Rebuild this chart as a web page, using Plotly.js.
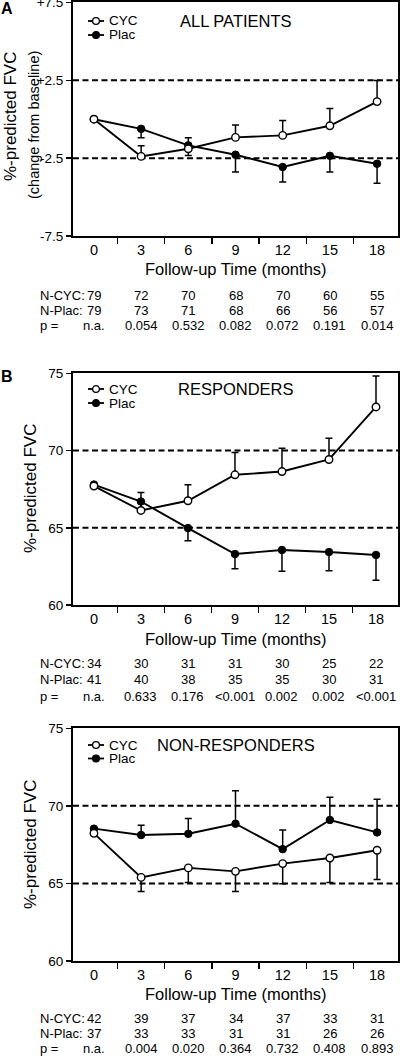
<!DOCTYPE html>
<html>
<head>
<meta charset="utf-8">
<script src="https://cdn.plot.ly/plotly-3.0.1.min.js"></script>
<style>html,body{margin:0;padding:0;background:#fff}#chart{width:400px;height:1058px}</style>
</head>
<body>
<div id="chart"></div>
<script>
// ---------- data ----------
const months = ['0', '3', '6', '9', '12', '15', '18'];

// Panel A: ALL PATIENTS (change from baseline)
const a_cyc = [0, -2.39, -1.90, -1.17, -1.04, -0.42, 1.13];
const a_cyc_err = [0, 0.68, 0.71, 0.79, 0.96, 1.11, 1.35];
const a_plac = [0, -0.62, -1.68, -2.28, -3.07, -2.35, -2.86];
const a_plac_err = [0, 0.57, 0.65, 1.11, 0.96, 1.04, 1.26];
const a_n_cyc = [79, 72, 70, 68, 70, 60, 55];
const a_n_plac = [79, 73, 71, 68, 66, 56, 57];
const a_p = ['n.a.', '0.054', '0.532', '0.082', '0.072', '0.191', '0.014'];
const a_ticks = [-7.5, -2.5, 2.5, 7.5];
const a_ticktext = ['-7.5', '-2.5', '+2.5', '+7.5'];
const a_refs = [2.5, -2.5];

// Panel B: RESPONDERS
const b_cyc = [67.7, 66.12, 66.75, 68.43, 68.64, 69.42, 72.82];
const b_cyc_err = [0, 1.16, 1.03, 1.44, 1.5, 1.38, 2.0];
const b_plac = [67.8, 66.7, 64.98, 63.3, 63.56, 63.43, 63.24];
const b_plac_err = [0, 0.5, 0.82, 0.95, 1.38, 1.21, 1.64];
const b_n_cyc = [34, 30, 31, 31, 30, 25, 22];
const b_n_plac = [41, 40, 38, 35, 35, 30, 31];
const b_p = ['n.a.', '0.633', '0.176', '<0.001', '0.002', '0.002', '<0.001'];

// Panel C: NON-RESPONDERS
const c_cyc = [68.23, 65.39, 66.0, 65.78, 66.28, 66.64, 67.14];
const c_cyc_err = [0, 0.91, 0.94, 1.3, 1.3, 1.58, 1.88];
const c_plac = [68.53, 68.12, 68.2, 68.85, 67.21, 69.09, 68.29];
const c_plac_err = [0, 0.63, 0.98, 2.12, 1.23, 1.47, 2.14];
const c_n_cyc = [42, 39, 37, 34, 37, 33, 31];
const c_n_plac = [37, 33, 33, 31, 31, 26, 26];
const c_p = ['n.a.', '0.004', '0.020', '0.364', '0.732', '0.408', '0.893'];

const bc_ticks = [60, 65, 70, 75];
const bc_refs = [70, 65];
const series_names = ['CYC', 'Plac'];
const panel_titles = ['ALL PATIENTS', 'RESPONDERS', 'NON-RESPONDERS'];
const panel_letters = ['A', 'B', ''];
const x_title = 'Follow-up Time (months)';
const y_title = '%-predicted FVC';
const y_subtitle = '(change from baseline)';
const row_labels = ['N-CYC:', 'N-Plac:', 'p ='];

// ---------- layout helpers ----------
const W = 400, H = 1058;
const FONT = 'Liberation Sans, Arial, Helvetica, sans-serif';
const px = p => p / W;
const py = p => 1 - p / H;

const panels = [
  { ax: '', top: 2.4, bottom: 236, range: [-7.5, 7.5], tickvals: a_ticks, ticktext: a_ticktext, refs: a_refs,
    cyc: a_cyc, cycUp: a_cyc_err, plac: a_plac, placDown: a_plac_err, placUpward: false,
    nc: a_n_cyc, np: a_n_plac, p: a_p,
    title: panel_titles[0], letter: panel_letters[0], letterY: 8.5, legY: [21, 35],
    ytitleX: 10, ytitleY: 117, sub: true, xlabY: 269, rowsY: [295, 310, 325.5] },
  { ax: '2', top: 373.3, bottom: 605, range: [60, 75], tickvals: bc_ticks, ticktext: bc_ticks.map(String), refs: bc_refs,
    cyc: b_cyc, cycUp: b_cyc_err, plac: b_plac, placDown: b_plac_err, placUpward: false,
    nc: b_n_cyc, np: b_n_plac, p: b_p,
    title: panel_titles[1], letter: panel_letters[1], letterY: 376, legY: [389, 403],
    ytitleX: 30, ytitleY: 489, sub: false, xlabY: 638.5, rowsY: [663.5, 679.5, 696] },
  { ax: '3', top: 728.3, bottom: 961, range: [60, 75], tickvals: bc_ticks, ticktext: bc_ticks.map(String), refs: bc_refs,
    cyc: c_cyc, cycUp: c_cyc_err, plac: c_plac, placDown: c_plac_err, placUpward: true,
    nc: c_n_cyc, np: c_n_plac, p: c_p,
    title: panel_titles[2], letter: panel_letters[2], letterY: 0, legY: [745, 758.5],
    ytitleX: 30, ytitleY: 845, sub: false, xlabY: 993.5, rowsY: [1018.5, 1033.5, 1048.5] }
];

const traces = [];
const shapes = [];
const annotations = [];
const layout = {
  width: W, height: H,
  margin: { l: 0, r: 0, t: 0, b: 0 },
  paper_bgcolor: '#fff', plot_bgcolor: '#fff',
  font: { family: FONT, color: '#000', size: 14 },
  showlegend: false
};

const txt = (text, x, y, size, opts) => Object.assign({
  text: text, x: x, y: y, xref: 'paper', yref: 'paper', showarrow: false,
  font: { family: FONT, size: size, color: '#000' }, xanchor: 'center', yanchor: 'middle'
}, opts || {});

panels.forEach(P => {
  const xa = 'x' + P.ax, ya = 'y' + P.ax;
  const xkey = 'xaxis' + P.ax, ykey = 'yaxis' + P.ax;
  layout[xkey] = {
    domain: [px(73), px(398)], anchor: ya, type: 'category',
    categoryorder: 'array', categoryarray: months,
    tickson: 'boundaries', ticks: 'outside', ticklen: 6, tickwidth: 1.5, tickcolor: '#000',
    showline: true, linewidth: 2, linecolor: '#000', mirror: true,
    showgrid: false, zeroline: false, fixedrange: true, ticklabeloverflow: 'allow',
    tickfont: { family: FONT, size: 14.5, color: '#000' }
  };
  layout[ykey] = {
    domain: [py(P.bottom), py(P.top)], anchor: xa, range: P.range,
    tickmode: 'array', tickvals: P.tickvals, ticktext: P.ticktext,
    ticks: 'outside', ticklen: 5, tickwidth: 1.5, tickcolor: '#000',
    showline: true, linewidth: 2, linecolor: '#000', mirror: true,
    showgrid: false, zeroline: false, fixedrange: true, ticklabeloverflow: 'allow',
    tickfont: { family: FONT, size: 13.5, color: '#000' }
  };

  // reference dashed lines
  P.refs.forEach(v => shapes.push({
    type: 'line', xref: xa + ' domain', yref: ya, x0: 0, x1: 1, y0: v, y1: v,
    line: { color: '#000', width: 2, dash: '6px,3.5px' }, layer: 'below'
  }));

  const zeros = months.map(() => 0);
  // Placebo (filled)
  traces.push({
    type: 'scatter', mode: 'lines+markers', name: series_names[1], x: months, y: P.plac,
    xaxis: xa, yaxis: ya, cliponaxis: false,
    line: { color: '#000', width: 1.9 },
    marker: { symbol: 'circle', size: 7.5, color: '#000', line: { color: '#000', width: 1 } },
    error_y: { type: 'data', symmetric: false,
      array: P.placUpward ? P.placDown : zeros, arrayminus: P.placUpward ? zeros : P.placDown,
      color: '#000', thickness: 1.5, width: 3.5 }
  });
  // CYC (open)
  traces.push({
    type: 'scatter', mode: 'lines+markers', name: series_names[0], x: months, y: P.cyc,
    xaxis: xa, yaxis: ya, cliponaxis: false,
    line: { color: '#000', width: 1.9 },
    marker: { symbol: 'circle', size: 7.5, color: '#fff', line: { color: '#000', width: 1.4 } },
    error_y: { type: 'data', symmetric: false,
      array: P.placUpward ? zeros : P.cycUp, arrayminus: P.placUpward ? P.cycUp : zeros,
      color: '#000', thickness: 1.5, width: 3.5 }
  });

  // manual legend
  [[series_names[0], '#fff', P.legY[0]], [series_names[1], '#000', P.legY[1]]].forEach(([nm, fill, yy]) => {
    shapes.push({ type: 'line', xref: 'paper', yref: 'paper', x0: px(88), x1: px(104), y0: py(yy), y1: py(yy),
      line: { color: '#000', width: 1.8 } });
    shapes.push({ type: 'circle', xref: 'paper', yref: 'paper', x0: px(92.6), x1: px(99.4), y0: py(yy + 3.4), y1: py(yy - 3.4),
      fillcolor: fill, line: { color: '#000', width: 1.3 } });
    annotations.push(txt(nm, px(106.5), py(yy), 13.5, { xanchor: 'left' }));
  });

  // panel title
  annotations.push(txt(P.title, px(236), py(P.legY[0]), 16.5));
  // panel letter
  if (P.letter) annotations.push(txt('<b>' + P.letter + '</b>', px(7), py(P.letterY), 16));
  // y title
  annotations.push(txt(y_title, px(P.ytitleX), py(P.ytitleY), 17, { textangle: -90 }));
  if (P.sub) annotations.push(txt(y_subtitle, px(34), py(P.ytitleY + 8), 14.5, { textangle: -90 }));
  // x title
  annotations.push(txt(x_title, px(236), py(P.xlabY), 16.5));

  // N / p table below the axis
  const rows = [P.nc.map(String), P.np.map(String), P.p.map(s => s.replace('<', '&lt;'))];
  rows.forEach((vals, r) => {
    annotations.push(txt(row_labels[r], px(38), py(P.rowsY[r]), 13, { xanchor: 'left' }));
    vals.forEach((v, i) => annotations.push({
      text: v, x: i, y: py(P.rowsY[r]), xref: xa, yref: 'paper', showarrow: false,
      xanchor: 'center', yanchor: 'middle', font: { family: FONT, size: 13, color: '#000' }
    }));
  });
});

layout.shapes = shapes;
layout.annotations = annotations;

Plotly.newPlot('chart', traces, layout, { staticPlot: true, displayModeBar: false });
</script>
</body>
</html>
